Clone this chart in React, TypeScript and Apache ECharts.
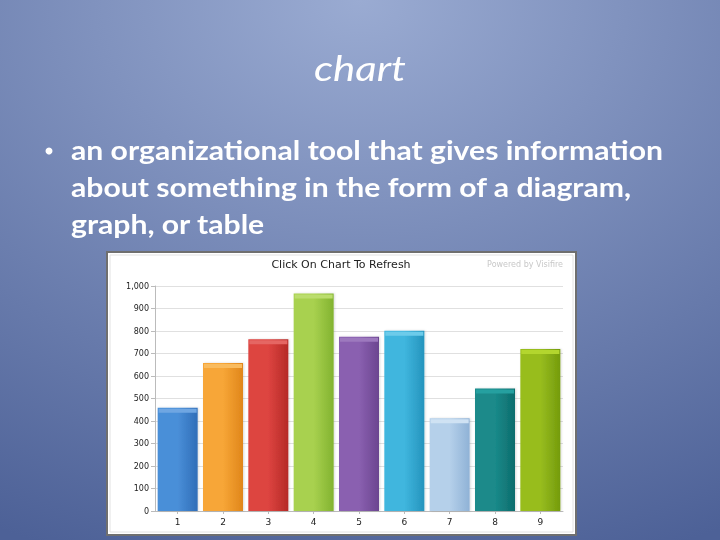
import React, { useEffect, useRef } from "react";
import * as echarts from "echarts";

const categories = ["1", "2", "3", "4", "5", "6", "7", "8", "9"];
const values = [459, 658, 763, 967, 775, 801, 412, 545, 720];
const barColors = [
  ["#4a8fd8", "#2f6db8"],
  ["#f7a637", "#e0861a"],
  ["#dd4440", "#b52a27"],
  ["#a8d14f", "#82b330"],
  ["#8a60b0", "#6b4590"],
  ["#3fb6de", "#2594bd"],
  ["#b5d0ea", "#8fb2d6"],
  ["#1a8a8a", "#0c6c6c"],
  ["#98bd1f", "#749b0c"],
];
const topColors = ["#6fa6e2", "#f9bb5e", "#e56663", "#bbdd6e", "#9d79be", "#6ccbea", "#cfe2f3", "#25a0a0", "#b3d62e"];
const bulletLines = [
  "an organizational tool that gives information",
  "about something in the form of a diagram,",
  "graph, or table",
];

export default function App() {
  const ref = useRef<HTMLDivElement>(null);
  useEffect(() => {
    const chart = echarts.init(ref.current!, null, { renderer: "svg" });
    const font = "Lato, 'Open Sans', sans-serif";
    chart.setOption({
      animation: false,
      graphic: [
        {
          type: "rect",
          z: -10,
          silent: true,
          shape: { x: 0, y: 0, width: 720, height: 540 },
          style: {
            fill: new echarts.graphic.RadialGradient(0.5, 0, 1.1, [
              { offset: 0, color: "#9aabd2" },
              { offset: 1, color: "#4d6197" },
            ]),
          },
        },
        {
          type: "text",
          x: 360,
          y: 67,
          scaleX: 1.2,
          style: {
            text: "chart",
            fill: "#ffffff",
            font: "italic 35px " + font,
            align: "center",
            verticalAlign: "middle",
          },
        },
        {
          type: "circle",
          shape: { cx: 49, cy: 151, r: 3.5 },
          style: { fill: "#ffffff" },
        },
        ...bulletLines.map((t, i) => ({
          type: "text",
          x: 71,
          y: 150 + i * 37,
          scaleX: 1.16,
          style: {
            text: t,
            fill: "#ffffff",
            font: "bold 26px " + font,
            verticalAlign: "middle",
          },
        })),
        {
          type: "rect",
          z: -5,
          shape: { x: 107, y: 252, width: 469, height: 283 },
          style: { fill: "#ffffff", stroke: "#6f6f6f", lineWidth: 2 },
        },
        {
          type: "rect",
          z: -4,
          shape: { x: 110, y: 255, width: 463, height: 277 },
          style: { fill: "none", stroke: "#e2e2e2", lineWidth: 1 },
        },
        {
          type: "text",
          x: 341,
          y: 264,
          style: {
            text: "Click On Chart To Refresh",
            fill: "#222222",
            font: "11px Verdana, 'DejaVu Sans', sans-serif",
            align: "center",
            verticalAlign: "middle",
          },
        },
        {
          type: "text",
          x: 563,
          y: 264,
          style: {
            text: "Powered by Visifire",
            fill: "#c8c8c8",
            font: "8px Verdana, 'DejaVu Sans', sans-serif",
            align: "right",
            verticalAlign: "middle",
          },
        },
      ],
      grid: { left: 155, top: 286, width: 408, height: 225, containLabel: false },
      xAxis: {
        type: "category",
        data: categories,
        axisLine: { show: true, lineStyle: { color: "#bbbbbb" } },
        axisTick: { show: true, alignWithLabel: true, length: 3, lineStyle: { color: "#bbbbbb" } },
        axisLabel: { color: "#222", fontSize: 9, fontFamily: "'DejaVu Sans', sans-serif", margin: 6 },
      },
      yAxis: {
        type: "value",
        min: 0,
        max: 1000,
        interval: 100,
        axisLine: { show: true, lineStyle: { color: "#bbbbbb" } },
        axisTick: { show: true, length: 4, lineStyle: { color: "#bbbbbb" } },
        axisLabel: {
          color: "#222",
          fontSize: 8,
          fontFamily: "'DejaVu Sans', sans-serif",
          margin: 6,
          formatter: (v: number) => v.toLocaleString("en-US"),
        },
        splitLine: { lineStyle: { color: "#e0e0e0" } },
      },
      series: [
        {
          type: "bar",
          barWidth: 40,
          data: values.map((v, i) => ({
            value: v,
            itemStyle: {
              color: new echarts.graphic.LinearGradient(0, 0, 1, 0, [
                { offset: 0, color: barColors[i][0] },
                { offset: 0.5, color: barColors[i][0] },
                { offset: 1, color: barColors[i][1] },
              ]),
              shadowColor: "rgba(0,0,0,0.15)",
              shadowBlur: 2,
              shadowOffsetX: 1,
            },
          })),
        },
        {
          type: "pictorialBar",
          symbol: "rect",
          symbolSize: [38, 4],
          symbolPosition: "end",
          symbolOffset: [0, 1],
          z: 3,
          data: values.map((v, i) => ({ value: v, itemStyle: { color: topColors[i] } })),
        },
      ],
    });
    return () => chart.dispose();
  }, []);
  return <div ref={ref} style={{ position: "fixed", left: 0, top: 0, width: 720, height: 540 }} />;
}
